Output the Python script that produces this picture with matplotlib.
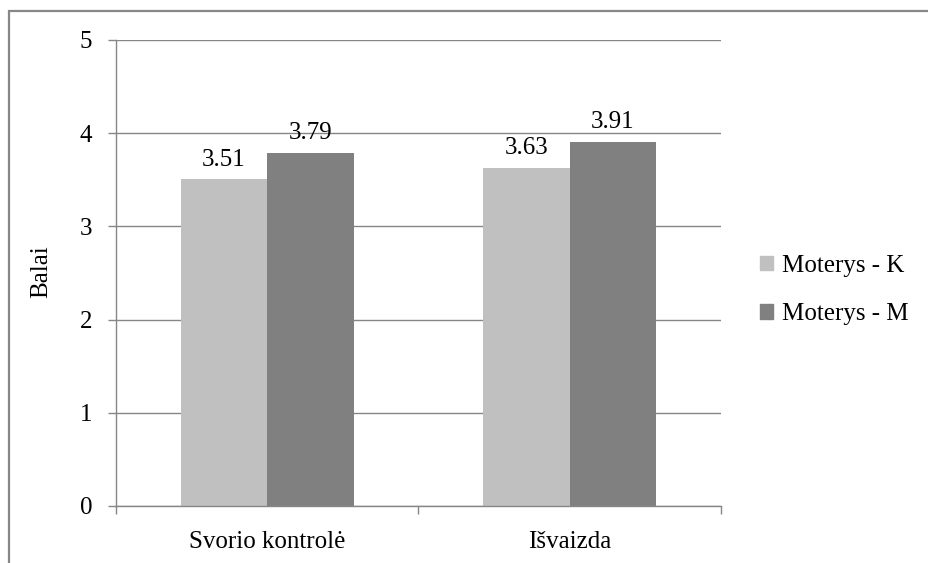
import matplotlib
matplotlib.use("Agg")
import matplotlib.pyplot as plt
from matplotlib.patches import Rectangle, Patch

categories = ["Svorio kontrolė", "Išvaizda"]
series_names = ["Moterys - K", "Moterys - M"]
values_k = [3.51, 3.63]
values_m = [3.79, 3.91]
colors = ["#C0C0C0", "#808080"]
yticks = [0, 1, 2, 3, 4, 5]

plt.rcParams["font.family"] = ["Liberation Serif", "DejaVu Serif"]
FS = 18
GRID = "#868686"

fig = plt.figure(figsize=(9.29, 5.63), dpi=100)
ax = fig.add_axes([116 / 929, 1 - 506 / 563, (721 - 116) / 929, (506 - 40) / 563])

w = 1 / 3.5
x = list(range(len(categories)))
bars_k = ax.bar([i - w / 2 for i in x], values_k, width=w, color=colors[0], label=series_names[0], zorder=2)
bars_m = ax.bar([i + w / 2 for i in x], values_m, width=w, color=colors[1], label=series_names[1], zorder=2)

for bars, vals in ((bars_k, values_k), (bars_m, values_m)):
    for b, v in zip(bars, vals):
        ax.annotate(f"{v:.2f}", (b.get_x() + b.get_width() / 2, v), xytext=(0, 6),
                    textcoords="offset points", ha="center", va="bottom", fontsize=FS)

ax.set_ylim(0, 5)
ax.set_xlim(-0.5, len(categories) - 0.5)
ax.set_yticks(yticks)
ax.set_yticklabels([str(t) for t in yticks], fontsize=FS)
ax.yaxis.grid(True, color=GRID, linewidth=1.0, zorder=0)
ax.set_axisbelow(True)

ax.set_xticks([i - 0.5 for i in range(len(categories) + 1)])
ax.set_xticklabels([])
ax.set_xticks(x, minor=True)
ax.set_xticklabels(categories, minor=True, fontsize=FS)
ax.tick_params(axis="x", which="major", length=6, color=GRID, width=1)
ax.tick_params(axis="x", which="minor", length=0, pad=18)
ax.tick_params(axis="y", length=6, color=GRID, width=1, pad=11)

for s in ("top", "right"):
    ax.spines[s].set_visible(False)
for s in ("left", "bottom"):
    ax.spines[s].set_color(GRID)
    ax.spines[s].set_linewidth(1.0)

fig.text(41 / 929, 1 - 272 / 563, "Balai", rotation=90, ha="center", va="center", fontsize=FS)

handles = [Patch(color=colors[0]), Patch(color=colors[1])]
fig.legend(handles, series_names, loc="center left", bbox_to_anchor=(738 / 929, 1 - 290 / 563),
           frameon=False, fontsize=FS, handlelength=0.5, handleheight=0.5,
           handletextpad=0.35, labelspacing=1.06)

fig.patches.append(Rectangle((9 / 929, -0.1), 1.2, 1 - 11 / 563 + 0.1, transform=fig.transFigure,
                             fill=False, edgecolor="#878787", linewidth=1.6))

fig.savefig("out.png", dpi=100)
